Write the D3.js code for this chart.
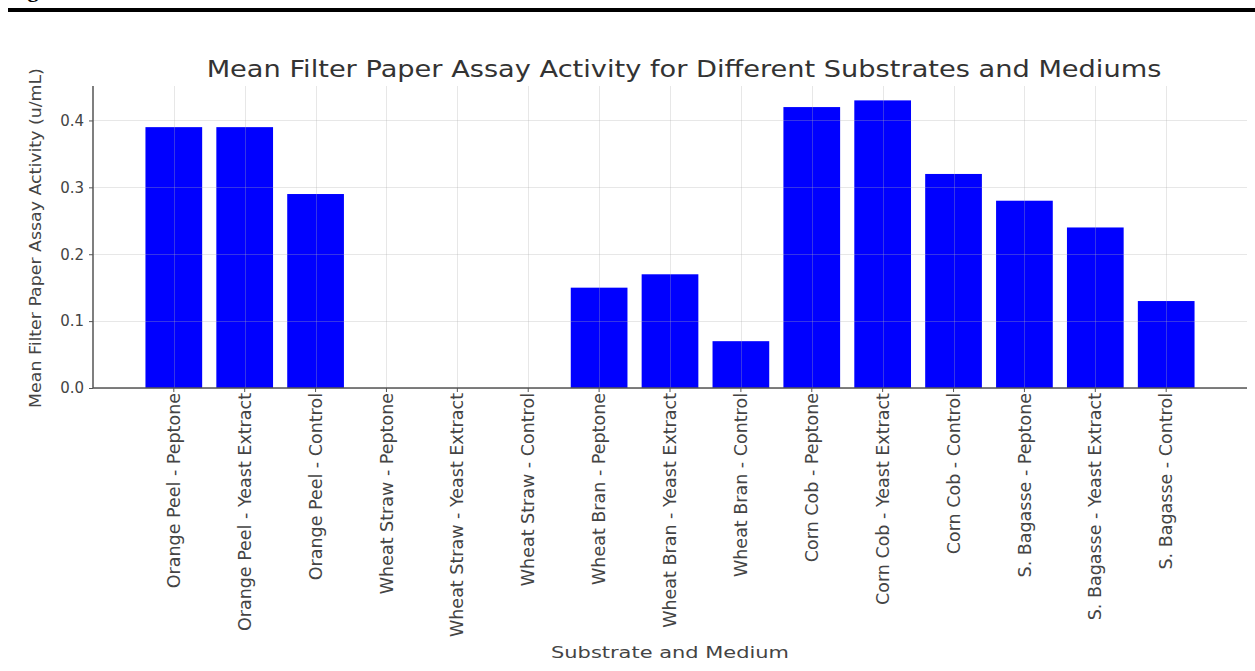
<!DOCTYPE html>
<html>
<head>
<meta charset="utf-8">
<script src="https://cdn.jsdelivr.net/npm/d3@7"></script>
<style>
  body { margin: 0; background: #fff; }
  svg { display: block; }
  text { font-family: "DejaVu Sans", sans-serif; }
</style>
</head>
<body>
<svg id="chart" width="1255" height="671"></svg>
<script>
const categories = [
  "Orange Peel - Peptone", "Orange Peel - Yeast Extract", "Orange Peel - Control",
  "Wheat Straw - Peptone", "Wheat Straw - Yeast Extract", "Wheat Straw - Control",
  "Wheat Bran - Peptone", "Wheat Bran - Yeast Extract", "Wheat Bran - Control",
  "Corn Cob - Peptone", "Corn Cob - Yeast Extract", "Corn Cob - Control",
  "S. Bagasse - Peptone", "S. Bagasse - Yeast Extract", "S. Bagasse - Control"
];
const values = [0.39, 0.39, 0.29, 0, 0, 0, 0.15, 0.17, 0.07, 0.42, 0.43, 0.32, 0.28, 0.24, 0.13];
const yTicks = [0.0, 0.1, 0.2, 0.3, 0.4];
const titleText = "Mean Filter Paper Assay Activity for Different Substrates and Mediums";
const xLabelText = "Substrate and Medium";
const yLabelText = "Mean Filter Paper Assay Activity (u/mL)";

const svg = d3.select("#chart");
const pL = 93, pR = 1247, pT = 86, pB = 388;

// Figure header remnants (cut off at the top edge, as in the reference)
svg.append("text").attr("x", 8).attr("y", -3)
  .style("font-family", "'Liberation Serif', serif").style("font-weight", "bold")
  .style("font-size", "22px").attr("fill", "#000").text("Figure 1");
svg.append("rect").attr("x", 8).attr("y", 8).attr("width", 1247).attr("height", 4).attr("fill", "#000");

const x = d3.scaleBand().domain(categories).range([pL, pR])
  .paddingInner(0.2).paddingOuter(0.74);
const y = d3.scaleLinear().domain([0, 0.4515]).range([pB, pT]);

// bars
svg.append("g").selectAll("rect").data(values).join("rect")
  .attr("x", (d, i) => x(categories[i]))
  .attr("width", x.bandwidth())
  .attr("y", d => y(d))
  .attr("height", d => y(0) - y(d))
  .attr("fill", "#0000ff");

// grid (drawn over bars)
const grid = svg.append("g").attr("stroke", "#b0b0b0").attr("stroke-opacity", 0.3).attr("stroke-width", 1);
grid.selectAll("line.h").data(yTicks).join("line").attr("class", "h")
  .attr("x1", pL).attr("x2", pR)
  .attr("y1", d => Math.round(y(d)) + 0.5).attr("y2", d => Math.round(y(d)) + 0.5);
grid.selectAll("line.v").data(categories).join("line").attr("class", "v")
  .attr("x1", d => Math.round(x(d) + x.bandwidth() / 2) + 0.5)
  .attr("x2", d => Math.round(x(d) + x.bandwidth() / 2) + 0.5)
  .attr("y1", pT).attr("y2", pB);

// axes
const yAxis = svg.append("g").attr("transform", `translate(${pL},0)`)
  .call(d3.axisLeft(y).tickValues(yTicks).tickFormat(d3.format(".1f")).tickSize(4).tickPadding(5));
yAxis.select(".domain").attr("stroke", "#555").attr("stroke-width", 1.5).attr("d", `M0,${pT}V${pB}`);
yAxis.selectAll(".tick line").attr("stroke", "#555");
yAxis.selectAll(".tick text").attr("fill", "#444").style("font-size", "15px");

const xAxis = svg.append("g").attr("transform", `translate(0,${pB})`)
  .call(d3.axisBottom(x).tickSize(4).tickPadding(5));
xAxis.select(".domain").attr("stroke", "#555").attr("stroke-width", 1.5).attr("d", `M${pL},0H${pR}`);
xAxis.selectAll(".tick line").attr("stroke", "#555");
xAxis.selectAll(".tick text")
  .attr("fill", "#444").style("font-size", "17.5px")
  .attr("text-anchor", "end")
  .attr("transform", "rotate(-90)")
  .attr("x", -5).attr("y", 0).attr("dy", "0.35em");

// fit text helper: scale horizontally to target length
function fit(sel, target) {
  const len = sel.node().getComputedTextLength();
  return target / len;
}

// title
const title = svg.append("text").attr("text-anchor", "middle")
  .attr("fill", "#333").style("font-size", "23px").text(titleText);
const ts = fit(title, 955);
title.attr("transform", `translate(684,77) scale(${ts},1)`);

// x label
const xl = svg.append("text").attr("text-anchor", "middle")
  .attr("fill", "#444").style("font-size", "16px").text(xLabelText);
const xs = fit(xl, 238);
xl.attr("transform", `translate(670,658) scale(${xs},1)`);

// y label
const yl = svg.append("text").attr("text-anchor", "middle")
  .attr("fill", "#444").style("font-size", "15px").text(yLabelText);
const ys = fit(yl, 340);
yl.attr("transform", `translate(41,238) rotate(-90) scale(${ys},1)`);
</script>
</body>
</html>
